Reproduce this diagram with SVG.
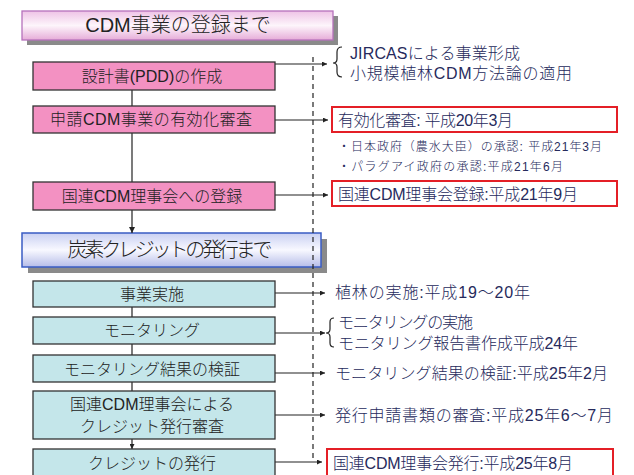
<svg xmlns="http://www.w3.org/2000/svg" width="634" height="475" viewBox="0 0 634 475">
<defs>
<linearGradient id="gPink" x1="0" y1="0" x2="0" y2="1">
<stop offset="0" stop-color="#eec2e6"/><stop offset="0.5" stop-color="#fdf5fb"/><stop offset="1" stop-color="#e6acd8"/>
</linearGradient>
<linearGradient id="gBlue" x1="0" y1="0" x2="0" y2="1">
<stop offset="0" stop-color="#c9d0f2"/><stop offset="0.5" stop-color="#f8f8ff"/><stop offset="1" stop-color="#b6bde8"/>
</linearGradient>
<marker id="ah" viewBox="0 0 10 10" refX="10" refY="5" markerWidth="5" markerHeight="5" markerUnits="userSpaceOnUse" orient="auto">
<path d="M0,0 L10,5 L0,10 z" fill="#222"/>
</marker>
<marker id="ahs" viewBox="0 0 10 10" refX="10" refY="5" markerWidth="6" markerHeight="6" markerUnits="userSpaceOnUse" orient="auto">
<path d="M0,0 L10,5 L0,10 z" fill="#222"/>
</marker>
</defs>
<style>
text{font-family:"Liberation Sans","Noto Sans CJK JP",sans-serif;font-weight:300;}
.pink{fill:#f391c2;stroke:#333;stroke-width:1.3;}
.teal{fill:#c4e6ea;stroke:#333;stroke-width:1.3;}
.nt{font-size:16px;fill:#222;text-anchor:middle;}
.ht{font-size:20px;fill:#222;text-anchor:middle;}
.rt{font-size:16px;fill:#262a5c;}
.st{font-size:12px;fill:#262a5c;}
.red{fill:none;stroke:#e41f26;stroke-width:2;}
.ln{stroke:#222;stroke-width:1.2;fill:none;}
.shadow{fill:#8a8a8a;}
</style>
<rect width="634" height="475" fill="#fff"/>

<g id="header1">
<rect class="shadow" x="27" y="16" width="311" height="29"/>
<rect x="22" y="11" width="311" height="29" fill="url(#gPink)" stroke="#b672bc" stroke-width="1.3"/>
<text class="ht" x="178" y="32">CDM事業の登録まで</text>
</g>

<g id="header2">
<rect class="shadow" x="28" y="239" width="299" height="34"/>
<rect x="22" y="233" width="299" height="34" fill="url(#gBlue)" stroke="#3a5cc4" stroke-width="1.5"/>
<text class="ht" x="170" y="257" textLength="205">炭素クレジットの発行まで</text>
</g>

<g id="connectors">
<line class="ln" x1="313" y1="57" x2="313" y2="462" stroke-dasharray="5,4"/>
<line class="ln" x1="132" y1="90" x2="132" y2="106"/>
<line class="ln" x1="132" y1="133" x2="132" y2="182"/>
<line class="ln" x1="132" y1="210" x2="132" y2="233" marker-end="url(#ahs)"/>
<line class="ln" x1="132" y1="307" x2="132" y2="317"/>
<line class="ln" x1="132" y1="344" x2="132" y2="355"/>
<line class="ln" x1="132" y1="382" x2="132" y2="391"/>
<line class="ln" x1="132" y1="439" x2="132" y2="449" marker-end="url(#ah)"/>
<line class="ln" x1="275" y1="64" x2="327" y2="64" marker-end="url(#ah)"/>
<line class="ln" x1="275" y1="120" x2="328" y2="120" marker-end="url(#ah)"/>
<line class="ln" x1="275" y1="195" x2="328" y2="195" marker-end="url(#ah)"/>
<line class="ln" x1="275" y1="293" x2="325" y2="293" marker-end="url(#ah)"/>
<line class="ln" x1="275" y1="333" x2="325" y2="333" marker-end="url(#ah)"/>
<line class="ln" x1="275" y1="373" x2="325" y2="373" marker-end="url(#ah)"/>
<line class="ln" x1="275" y1="415" x2="325" y2="415" marker-end="url(#ah)"/>
<line class="ln" x1="275" y1="462" x2="322" y2="462" marker-end="url(#ah)"/>
</g>

<g id="n1"><rect class="pink" x="33" y="62" width="242" height="28"/><text class="nt" x="152" y="82">設計書(PDD)の作成</text></g>
<g id="n2"><rect class="pink" x="33" y="106" width="242" height="27"/><text class="nt" x="151" y="125" textLength="202">申請CDM事業の有効化審査</text></g>
<g id="n3"><rect class="pink" x="33" y="182" width="242" height="28"/><text class="nt" x="152" y="202">国連CDM理事会への登録</text></g>

<g id="n4"><rect class="teal" x="33" y="281" width="242" height="26"/><text class="nt" x="152" y="300">事業実施</text></g>
<g id="n5"><rect class="teal" x="33" y="317" width="242" height="27"/><text class="nt" x="152" y="336">モニタリング</text></g>
<g id="n6"><rect class="teal" x="33" y="355" width="242" height="27"/><text class="nt" x="152" y="375">モニタリング結果の検証</text></g>
<g id="n7"><rect class="teal" x="33" y="391" width="242" height="48"/><text class="nt" x="152" y="410">国連CDM理事会による</text><text class="nt" x="152" y="432">クレジット発行審査</text></g>
<g id="n8"><rect class="teal" x="33" y="449" width="242" height="28"/><text class="nt" x="152" y="469">クレジットの発行</text></g>

<g id="note1">
<path class="ln" d="M342,47 Q337,47 337,52 L337,59 Q337,63 333,63 Q337,63 337,67 L337,72 Q337,77 342,77"/>
<text class="rt" x="350" y="59" textLength="170">JIRCASによる事業形成</text>
<text class="rt" x="350" y="79" textLength="222">小規模植林CDM方法論の適用</text>
</g>

<g id="note2">
<rect class="red" x="332" y="107" width="285" height="25"/>
<text class="rt" x="338" y="126" textLength="175">有効化審査: 平成20年3月</text>
</g>

<g id="note3">
<text class="st" x="338" y="151" textLength="264">・日本政府（農水大臣）の承認: 平成21年3月</text>
<text class="st" x="338" y="171" textLength="225">・パラグアイ政府の承認:平成21年6月</text>
</g>

<g id="note4">
<rect class="red" x="332" y="181" width="285" height="25"/>
<text class="rt" x="338" y="200" textLength="240">国連CDM理事会登録:平成21年9月</text>
</g>

<g id="note5"><text class="rt" x="335" y="298" textLength="195">植林の実施:平成19〜20年</text></g>

<g id="note6">
<path class="ln" d="M334,318 Q330,318 330,322 L330,329 Q330,333 326,333 Q330,333 330,337 L330,343 Q330,347 334,347"/>
<text class="rt" x="338" y="328" textLength="135">モニタリングの実施</text>
<text class="rt" x="338" y="349" textLength="240">モニタリング報告書作成平成24年</text>
</g>

<g id="note7"><text class="rt" x="335" y="379" textLength="273">モニタリング結果の検証:平成25年2月</text></g>
<g id="note8"><text class="rt" x="335" y="421" textLength="278">発行申請書類の審査:平成25年6〜7月</text></g>
<g id="note9">
<rect class="red" x="327" y="449" width="286" height="28"/>
<text class="rt" x="333" y="469" textLength="240">国連CDM理事会発行:平成25年8月</text>
</g>
</svg>
